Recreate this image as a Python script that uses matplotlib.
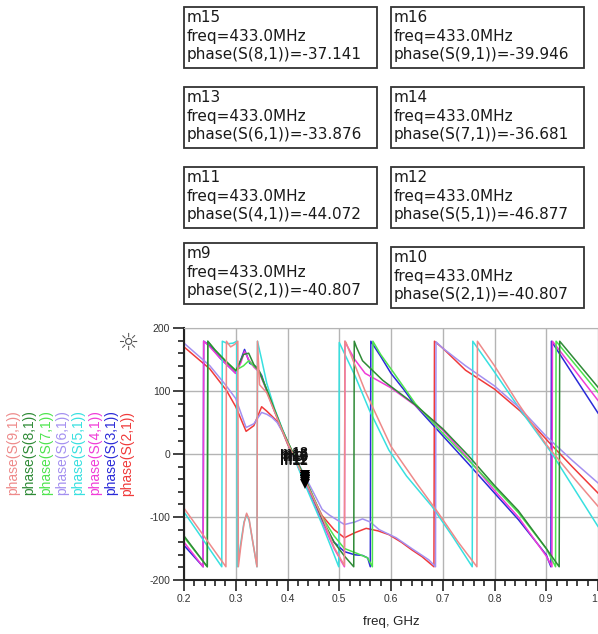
import matplotlib
matplotlib.use("Agg")
import matplotlib.pyplot as plt
from matplotlib.patches import Rectangle
from matplotlib.ticker import MultipleLocator

plt.rcParams['font.family'] = ['Liberation Sans', 'DejaVu Sans']

# ---- traces: phase(S(n,1)) in degrees vs frequency in GHz ----
f_s2 = [0.2, 0.25, 0.282, 0.30, 0.32, 0.335, 0.35, 0.36, 0.37, 0.38, 0.39, 0.40, 0.433, 0.467, 0.49, 0.51, 0.53,
        0.552, 0.575, 0.596, 0.62, 0.64, 0.66, 0.683, 0.684, 0.70, 0.744, 0.80, 0.85, 0.907, 0.95, 1.0]
p_s2 = [170, 135, 101, 75, 36, 45, 75, 68, 60, 52, 36, 16, -40.807, -98, -120, -133, -125,
        -118, -122, -128, -140, -152, -163, -179, 179, 168, 133, 103, 68, 17, -20, -62]

f_s3 = [0.2, 0.237, 0.238, 0.25, 0.27, 0.30, 0.31, 0.317, 0.327, 0.34, 0.35, 0.36, 0.375, 0.39, 0.40, 0.433,
        0.467, 0.49, 0.51, 0.53, 0.545, 0.555, 0.56, 0.561, 0.58, 0.6, 0.625, 0.647, 0.7, 0.75, 0.8, 0.846,
        0.9, 0.909, 0.91, 1.0]
p_s3 = [-145, -179, 179, 172, 152, 128, 150, 166, 144, 138, 125, 100, 68, 38, 18, -42,
        -106, -140, -155, -160, -161, -165, -179, 179, 155, 128, 102, 77, 29, -16, -62, -104,
        -160, -179, 179, 65]

f_s4 = [0.2, 0.237, 0.238, 0.25, 0.27, 0.30, 0.31, 0.317, 0.325, 0.335, 0.345, 0.36, 0.375, 0.39, 0.40, 0.433,
        0.467, 0.49, 0.51, 0.511, 0.515, 0.53, 0.55, 0.6, 0.647, 0.7, 0.75, 0.8, 0.846, 0.9, 0.911, 0.912, 1.0]
p_s4 = [-140, -179, 179, 170, 152, 128, 145, 163, 150, 138, 130, 100, 68, 38, 20, -44.072,
        -108, -150, -179, 179, 172, 150, 128, 105, 77, 38, -8, -58, -100, -162, -179, 179, 85]

f_s5 = [0.2, 0.273, 0.274, 0.285, 0.295, 0.302, 0.303, 0.31, 0.316, 0.321, 0.326, 0.333, 0.341, 0.342, 0.35,
        0.36, 0.375, 0.39, 0.40, 0.433, 0.467, 0.49, 0.499, 0.50, 0.53, 0.558, 0.596, 0.63, 0.679, 0.72,
        0.757, 0.758, 0.80, 0.85, 0.91, 1.0]
p_s5 = [-92, -179, 179, 175, 176, 179, -179, -140, -108, -96, -106, -140, -179, 179, 150,
        112, 72, 40, 20, -46.877, -112, -160, -179, 177, 125, 70, 6, -35, -83, -132,
        -179, 179, 130, 70, 2, -115]

f_s6 = [0.2, 0.25, 0.28, 0.30, 0.32, 0.335, 0.35, 0.36, 0.37, 0.38, 0.39, 0.40, 0.433, 0.467, 0.481, 0.51,
        0.53, 0.545, 0.56, 0.577, 0.61, 0.64, 0.673, 0.686, 0.687, 0.70, 0.744, 0.80, 0.85, 0.90, 0.95, 1.0]
p_s6 = [176, 140, 110, 88, 42, 48, 66, 63, 58, 50, 36, 18, -33.876, -88, -97, -112,
        -108, -103, -108, -120, -133, -150, -168, -179, 178, 168, 140, 108, 72, 28, -10, -46]

f_s7 = [0.2, 0.245, 0.246, 0.26, 0.28, 0.30, 0.315, 0.325, 0.335, 0.345, 0.36, 0.375, 0.39, 0.40, 0.433,
        0.467, 0.49, 0.51, 0.535, 0.555, 0.564, 0.565, 0.58, 0.6, 0.647, 0.7, 0.75, 0.8, 0.846, 0.9, 0.918,
        0.919, 1.0]
p_s7 = [-132, -179, 179, 165, 148, 133, 140, 148, 140, 132, 102, 70, 38, 20, -36.681,
        -100, -130, -150, -158, -165, -179, 179, 158, 135, 80, 33, -10, -53, -93, -150, -179,
        179, 98]

f_s8 = [0.2, 0.245, 0.246, 0.26, 0.28, 0.30, 0.315, 0.325, 0.335, 0.345, 0.36, 0.375, 0.39, 0.40, 0.433,
        0.467, 0.49, 0.51, 0.528, 0.529, 0.533, 0.545, 0.584, 0.647, 0.7, 0.75, 0.8, 0.846, 0.9, 0.925,
        0.926, 1.0]
p_s8 = [-130, -179, 179, 165, 148, 132, 158, 160, 142, 132, 102, 70, 38, 20, -37.141,
        -103, -140, -162, -179, 179, 170, 148, 117, 78, 40, -3, -50, -90, -150, -179,
        179, 106]

f_s9 = [0.2, 0.281, 0.282, 0.29, 0.298, 0.304, 0.305, 0.31, 0.316, 0.321, 0.326, 0.333, 0.341, 0.342, 0.346,
        0.36, 0.375, 0.39, 0.40, 0.433, 0.467, 0.49, 0.51, 0.511, 0.513, 0.55, 0.6, 0.65, 0.69, 0.73, 0.766,
        0.767, 0.80, 0.846, 0.9, 0.95, 1.0]
p_s9 = [-86, -179, 179, 170, 174, 179, -179, -145, -110, -94, -104, -140, -179, 179, 110,
        97, 67, 37, 18, -39.946, -100, -148, -177, 179, 177, 100, 12, -47, -92, -140, -179,
        179, 140, 80, 15, -35, -83]

series_names = ["phase(S(2,1))", "phase(S(3,1))", "phase(S(4,1))", "phase(S(5,1))",
                "phase(S(6,1))", "phase(S(7,1))", "phase(S(8,1))", "phase(S(9,1))"]
series_freq = [f_s2, f_s3, f_s4, f_s5, f_s6, f_s7, f_s8, f_s9]
series_phase = [p_s2, p_s3, p_s4, p_s5, p_s6, p_s7, p_s8, p_s9]
series_colors = ["#f03a3a", "#2a2ad8", "#f03cd8", "#38e0e0", "#a490f0", "#4ee44e", "#2e8a36", "#ee8a8a"]

# ---- markers ----
marker_freq_mhz = 433.0
marker_names = ["m15", "m16", "m13", "m14", "m11", "m12", "m9", "m10"]
marker_traces = ["phase(S(8,1))", "phase(S(9,1))", "phase(S(6,1))", "phase(S(7,1))",
                 "phase(S(4,1))", "phase(S(5,1))", "phase(S(2,1))", "phase(S(2,1))"]
marker_values = [-37.141, -39.946, -33.876, -36.681, -44.072, -46.877, -40.807, -40.807]

W, H = 598, 634
fig = plt.figure(figsize=(W / 100, H / 100), dpi=100)
fig.patch.set_facecolor("white")

# overlay in pixel coordinates for marker readout boxes and side labels
ov = fig.add_axes([0, 0, 1, 1], zorder=0)
ov.set_xlim(0, W)
ov.set_ylim(H, 0)
ov.axis("off")
ov.patch.set_visible(False)

box_xy = [(184, 7), (391, 7), (184, 87), (391, 87), (184, 167), (391, 167), (184, 243), (391, 247)]
box_w, box_h = 193, 61
for (bx, by), name, tr, val in zip(box_xy, marker_names, marker_traces, marker_values):
    ov.add_patch(Rectangle((bx, by), box_w, box_h, fill=False, edgecolor="#333333", lw=1.3))
    lines = [name, f"freq={marker_freq_mhz:.1f}MHz", f"{tr}={val:.3f}"]
    for k, s in enumerate(lines):
        ov.text(bx + 3, by + 11 + 18.5 * k, s, fontsize=11, color="#1a1a1a", va="center", ha="left",
                family=["DejaVu Sans"])

# vertical trace labels on the left
label_x = [13, 29, 46, 62, 78, 95, 111, 127]
for lx, name, col in zip(label_x, series_names[::-1], series_colors[::-1]):
    ov.text(lx, 453, name, rotation=90, fontsize=10, color=col, ha="center", va="center")

ov.text(128, 343, "\u263c", fontsize=17, color="#555555", ha="center", va="center",
        family=["DejaVu Sans"])

ov.text(391, 622, "freq, GHz", fontsize=9.5, color="#222222", ha="center", va="center")

# main plot
left = 184 / W
bottom = (H - 580) / H
ax = fig.add_axes([left, bottom, 1 - left, (580 - 328) / H], zorder=1)
ax.patch.set_alpha(0)

for fr, ph, col in zip(series_freq, series_phase, series_colors):
    ax.plot(fr, ph, color=col, lw=1.1, solid_joinstyle="round")

f_mark = marker_freq_mhz / 1000.0
for name, val in zip(marker_names, marker_values):
    ax.plot([f_mark], [val], marker="v", ms=7, color="black", markeredgewidth=0)
    ax.annotate(name, xy=(f_mark, val), xytext=(-8, 16), textcoords="offset points",
                fontsize=10, fontweight="bold", color="#111111", ha="center", va="center")

ax.set_xlim(0.2, 1.0)
ax.set_ylim(-200, 200)
ax.xaxis.set_minor_locator(MultipleLocator(0.02))
ax.yaxis.set_minor_locator(MultipleLocator(20))
ax.set_xticks([0.2, 0.3, 0.4, 0.5, 0.6, 0.7, 0.8, 0.9, 1.0])
ax.set_xticklabels(["0.2", "0.3", "0.4", "0.5", "0.6", "0.7", "0.8", "0.9", "1.0"])
ax.set_yticks([-200, -100, 0, 100, 200])
ax.set_yticklabels(["-200", "-100", "0", "100", "200"])
ax.grid(True, which="major", color="#b4b4b4", lw=1.0)
ax.set_axisbelow(True)
ax.tick_params(which="major", direction="out", length=8, width=1.2, color="#222222",
               labelsize=7.5, labelcolor="#333333", pad=2)
ax.tick_params(which="minor", direction="out", length=4, width=1.2, color="#222222")
for side in ("left", "bottom"):
    ax.spines[side].set_color("#222222")
    ax.spines[side].set_linewidth(1.5)
ax.spines["top"].set_color("#b4b4b4")
ax.spines["right"].set_visible(False)

fig.savefig("out.png", dpi=100)
